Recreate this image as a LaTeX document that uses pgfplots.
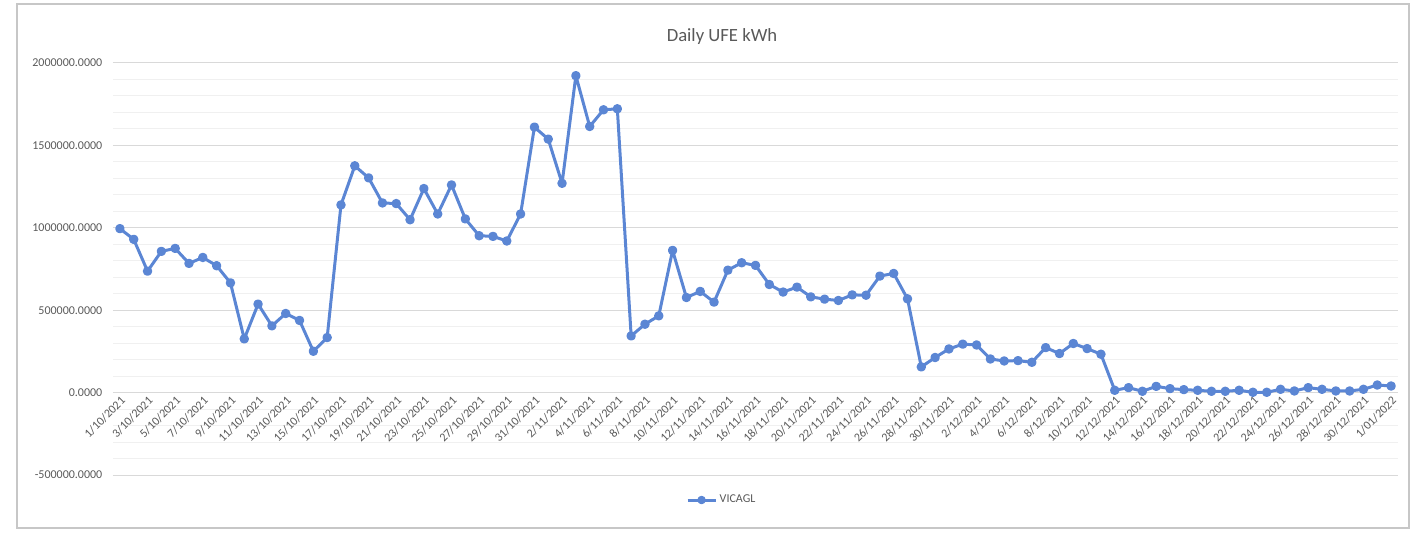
\documentclass[border=0pt]{standalone}
\usepackage{fontspec}
\setmainfont{Carlito}
\usepackage{pgfplots}
\pgfplotsset{compat=1.18}
\definecolor{txt}{HTML}{595959}
\definecolor{ser}{RGB}{91,134,212}
\pgfplotstableread{
x y
0 995000
1 930000
2 737000
3 857000
4 875000
5 784000
6 820000
7 770000
8 666000
9 326000
10 537000
11 405000
12 480000
13 438000
14 251000
15 334000
16 1139000
17 1376000
18 1303000
19 1151000
20 1147000
21 1049000
22 1238000
23 1084000
24 1260000
25 1054000
26 952000
27 948000
28 920000
29 1084000
30 1611000
31 1538000
32 1270000
33 1923000
34 1615000
35 1716000
36 1722000
37 344000
38 415000
39 466000
40 863000
41 577000
42 614000
43 549000
44 743000
45 788000
46 772000
47 656000
48 610000
49 640000
50 581000
51 567000
52 559000
53 593000
54 591000
55 707000
56 723000
57 569000
58 156000
59 213000
60 265000
61 294000
62 289000
63 204000
64 192000
65 194000
66 184000
67 273000
68 237000
69 298000
70 267000
71 233000
72 14000
73 30000
74 8000
75 38000
76 24000
77 18000
78 14000
79 8000
80 8000
81 14000
82 2000
83 2000
84 20000
85 10000
86 30000
87 20000
88 10000
89 10000
90 20000
91 46000
92 40000
}\datatable
\begin{document}
\begin{tikzpicture}
\path[use as bounding box] (-84.75pt,-42.75pt) rectangle (975pt,356.25pt);
\draw[black!22, line width=1pt] (-72pt,-39.75pt) rectangle (972pt,353.25pt);
\begin{axis}[
 scale only axis, width=963.75pt, height=309pt,
 at={(0,0)}, anchor=south west,
 xmin=-0.5, xmax=92.5, ymin=-500000, ymax=2000000,
 axis x line*=middle, axis y line*=left,
 axis line style={draw=none},
 hide obscured x ticks=false, hide obscured y ticks=false,
 major tick length=0pt, minor tick length=0pt,
 scaled y ticks=false,
 ytick={-500000,0,500000,1000000,1500000,2000000},
 minor y tick num=4,
 ymajorgrids, yminorgrids,
 major grid style={draw=black!15, line width=0.75pt},
 minor grid style={draw=black!6, line width=0.75pt},
 xtick={0,2,...,92},
 xticklabels={1/10/2021,3/10/2021,5/10/2021,7/10/2021,9/10/2021,11/10/2021,13/10/2021,15/10/2021,17/10/2021,19/10/2021,21/10/2021,23/10/2021,25/10/2021,27/10/2021,29/10/2021,31/10/2021,2/11/2021,4/11/2021,6/11/2021,8/11/2021,10/11/2021,12/11/2021,14/11/2021,16/11/2021,18/11/2021,20/11/2021,22/11/2021,24/11/2021,26/11/2021,28/11/2021,30/11/2021,2/12/2021,4/12/2021,6/12/2021,8/12/2021,10/12/2021,12/12/2021,14/12/2021,16/12/2021,18/12/2021,20/12/2021,22/12/2021,24/12/2021,26/12/2021,28/12/2021,30/12/2021,1/01/2022},
 tick label style={font=\fontsize{9}{10}\selectfont, text=txt},
 xticklabel style={rotate=45, anchor=north east, inner sep=1.5pt},
 yticklabel style={xshift=-4.5pt, /pgf/number format/.cd, fixed, fixed zerofill, precision=4, 1000 sep={}},
 /pgf/number format/assume math mode=true,
 legend style={at={(0.474,-0.0607)}, anchor=center, draw=none, fill=none, font=\fontsize{9}{10}\selectfont, text=txt},
 legend image code/.code={\draw[ser, line width=2.25pt] (0pt,0pt) -- (21pt,0pt); \fill[ser] (10.5pt,0pt) circle (2pt);},
 clip=false,
]
\addplot[color=ser, line width=2.25pt, mark=*, mark size=2.4pt, line join=round] table[x=x,y=y] {\datatable};
\addlegendentry{VICAGL}
\end{axis}
\node[text=txt, font=\fontsize{14}{16}\selectfont] at (456.75pt,328.5pt) {Daily UFE kWh};
\end{tikzpicture}
\end{document}
